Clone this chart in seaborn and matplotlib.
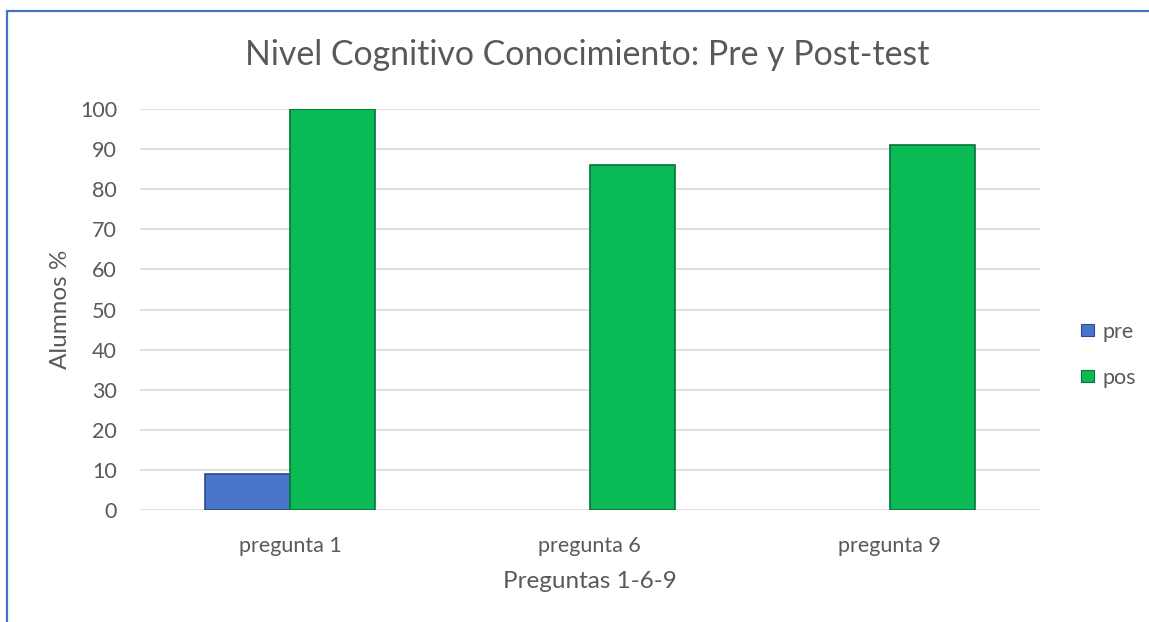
import matplotlib
matplotlib.use("Agg")
import matplotlib.pyplot as plt
import seaborn as sns
import pandas as pd
from matplotlib.lines import Line2D

categories = ["pregunta 1", "pregunta 6", "pregunta 9"]
series_names = ["pre", "pos"]
pre_values = [9, 0, 0]
pos_values = [100, 86, 91]
y_ticks = [0, 10, 20, 30, 40, 50, 60, 70, 80, 90, 100]

df = pd.DataFrame({
    "categoria": categories * 2,
    "serie": [series_names[0]] * 3 + [series_names[1]] * 3,
    "valor": pre_values + pos_values,
})

sns.set_theme(style="white")
plt.rcParams["font.family"] = ["Lato", "DejaVu Sans"]
txt = "#595959"

fig = plt.figure(figsize=(11.49, 6.22), dpi=100)
ax = fig.add_axes([0.1218, 0.18, 0.783, 0.6448])

palette = {"pre": "#4A76C9", "pos": "#0ABA55"}
edges = {"pre": "#2A4A8A", "pos": "#06733A"}
sns.barplot(data=df, x="categoria", y="valor", hue="serie", order=categories,
            hue_order=series_names, palette=palette, width=0.567, ax=ax,
            saturation=1, legend=True)

for cont, name in zip(ax.containers, series_names):
    for bar in cont:
        if bar.get_height() > 0:
            bar.set_edgecolor(edges[name])
            bar.set_linewidth(1.2)
        else:
            bar.set_visible(False)

ax.set_ylim(0, 100)
ax.set_xlim(-0.5, 2.5)
ax.set_yticks(y_ticks)
ax.yaxis.grid(True, color="#D9D9D9", linewidth=1.2)
ax.set_axisbelow(True)
for s in ax.spines.values():
    s.set_visible(False)
ax.tick_params(axis="both", length=0, colors=txt, labelsize=15.5)
ax.tick_params(axis="y", pad=16.5)
ax.tick_params(axis="x", pad=19)
ax.set_xlabel("Preguntas 1-6-9", color=txt, fontsize=17.5)
ax.xaxis.set_label_coords(0.5, -0.152)
ax.set_ylabel("Alumnos %", color=txt, fontsize=17.5)
ax.yaxis.set_label_coords(-0.077, 0.5)
fig.text(0.511, 1 - 55 / 622, "Nivel Cognitivo Conocimiento: Pre y Post-test",
         color=txt, fontsize=24.4, ha="center", va="center")

leg = ax.legend(loc="center left", bbox_to_anchor=(1.0455, 0.387), frameon=False,
                fontsize=15.5, handlelength=0.62, handleheight=0.5,
                handletextpad=0.4, labelspacing=1.2, borderpad=0,
                borderaxespad=0)
for t in leg.get_texts():
    t.set_color(txt)
for h, name in zip(leg.legend_handles, series_names):
    h.set_edgecolor(edges[name])
    h.set_linewidth(0.8)

fig.add_artist(Line2D([6.5 / 1149, 1.0], [1 - 11 / 622, 1 - 11 / 622],
                      transform=fig.transFigure, color="#4472C4", linewidth=1.6))
fig.add_artist(Line2D([6.5 / 1149, 6.5 / 1149], [0.0, 1 - 11 / 622],
                      transform=fig.transFigure, color="#4472C4", linewidth=1.6))

fig.savefig("out.png", dpi=100)
